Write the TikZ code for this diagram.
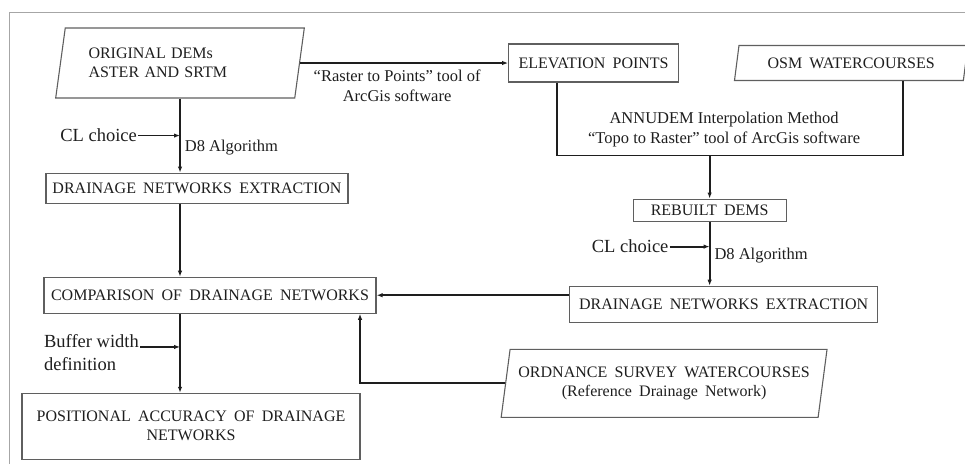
\documentclass[tikz,border=0pt]{standalone}
\usepackage{fontspec}
\setmainfont{Liberation Serif}
\newfontfamily\flowboxfamily{Liberation Serif}[WordSpace=1.8]
\usetikzlibrary{arrows.meta,shapes.geometric,positioning}
\definecolor{boxgray}{HTML}{5F5F5F}
\definecolor{inkgray}{HTML}{1E1E1E}
\newcommand{\flowboxfont}{\flowboxfamily\fontsize{16}{19}\selectfont}
\newcommand{\flowlabelfont}{\fontsize{16.5}{20}\selectfont}
\newcommand{\flowchoicefont}{\fontsize{18.5}{23}\selectfont}
\tikzset{
    flow/.style={-{Latex[length=6pt,width=4.5pt]}, line width=1.8pt, inkgray},
    link/.style={line width=1.8pt, inkgray},
    box/.style={draw=boxgray, line width=1.1pt, rectangle, inner sep=2pt, text=inkgray, font=\flowboxfont},
    datain/.style={draw=boxgray, line width=1.1pt, trapezium, trapezium left angle=77, trapezium right angle=103, trapezium stretches=true, inner sep=2pt, text=inkgray, font=\flowboxfont},
    steplabel/.style={text=inkgray, font=\flowlabelfont, inner sep=1pt},
    choice/.style={text=inkgray, font=\flowchoicefont, inner sep=1pt}
}

\begin{document}
\begin{tikzpicture}[x=1pt, y=-1pt]
    \useasboundingbox (0,0) rectangle (965,464);
    \draw[gray!70, line width=1pt] (9,464) -- (9,12) -- (965,12);

    % left column
    \node[datain, minimum width=249pt, minimum height=70pt, text width=183pt, align=left] (orig) at (180,63) {ORIGINAL DEMs\\ASTER AND SRTM};
    \node[box, minimum width=302pt, minimum height=30pt, below=74pt of orig, xshift=17pt] (extr1) {DRAINAGE NETWORKS EXTRACTION};
    \node[box, minimum width=332pt, minimum height=36pt, below=73pt of extr1, xshift=13pt] (compare) {COMPARISON OF DRAINAGE NETWORKS};
    \node[box, minimum width=338pt, minimum height=66pt, below=79pt of compare, xshift=-19pt, align=center] (accuracy) {POSITIONAL ACCURACY OF DRAINAGE\\NETWORKS};

    % right column
    \node[box, minimum width=170pt, minimum height=38pt, right=208pt of orig] (elev) {ELEVATION POINTS};
    \node[datain, minimum width=234pt, minimum height=35pt, right=57pt of elev] (osm) {OSM WATERCOURSES};
    \node[box, minimum width=153pt, minimum height=22pt, below=116pt of elev, xshift=116pt] (rebuilt) {REBUILT DEMS};
    \node[box, minimum width=308pt, minimum height=36pt, below=64pt of rebuilt, xshift=14pt] (extr2) {DRAINAGE NETWORKS EXTRACTION};
    \node[datain, minimum width=327pt, minimum height=68pt, below=26pt of extr2, xshift=-59.5pt, align=center] (os) {ORDNANCE SURVEY WATERCOURSES\\(Reference Drainage Network)};

    % connectors, left
    \draw[flow] (orig.east |- elev.west) -- (elev.west)
        node[midway, below=5pt, xshift=-7pt, steplabel, align=center] (rtp) {“Raster to Points” tool of\\ArcGis software};
    \draw[flow] (orig.south) -- (orig.south |- extr1.north)
        coordinate[pos=0.5] (cl1) node[pos=0.66, right=3pt, steplabel] (d8a) {D8 Algorithm};
    \node[choice, left=42pt of cl1] (clch1) {CL choice};
    \draw[flow] (clch1) -- (cl1);
    \draw[flow] (orig.south |- extr1.south) -- (orig.south |- compare.north);
    \draw[flow] (orig.south |- compare.south) -- (orig.south |- accuracy.north)
        coordinate[pos=0.42] (bw);
    \node[choice, align=left, anchor=north east] (buffer) at ([xshift=-40pt, yshift=14pt]bw) {Buffer width\\definition};
    \draw[flow] (buffer.east |- bw) -- (bw);

    % connectors, right
    \draw[link] ([xshift=49pt]elev.south west) -- ++(0pt,-73pt) coordinate (annL) -| ([xshift=52pt]osm.south);
    \node[steplabel, align=center] (annudem) at ([xshift=167pt, yshift=26pt]annL) {ANNUDEM Interpolation Method\\“Topo to Raster” tool of ArcGis software};
    \draw[flow] (annL -| rebuilt.north) -- (rebuilt.north);
    \draw[flow] (rebuilt.south) -- (rebuilt.south |- extr2.north)
        coordinate[pos=0.39] (cl2) node[pos=0.53, right=3pt, steplabel] (d8b) {D8 Algorithm};
    \node[choice, left=40pt of cl2] (clch2) {CL choice};
    \draw[flow] (clch2) -- (cl2);
    \draw[flow] (extr2.west |- compare.east) -- (compare.east);
    \draw[flow] (os.west) -| ([xshift=150pt]compare.south);
\end{tikzpicture}
\end{document}
